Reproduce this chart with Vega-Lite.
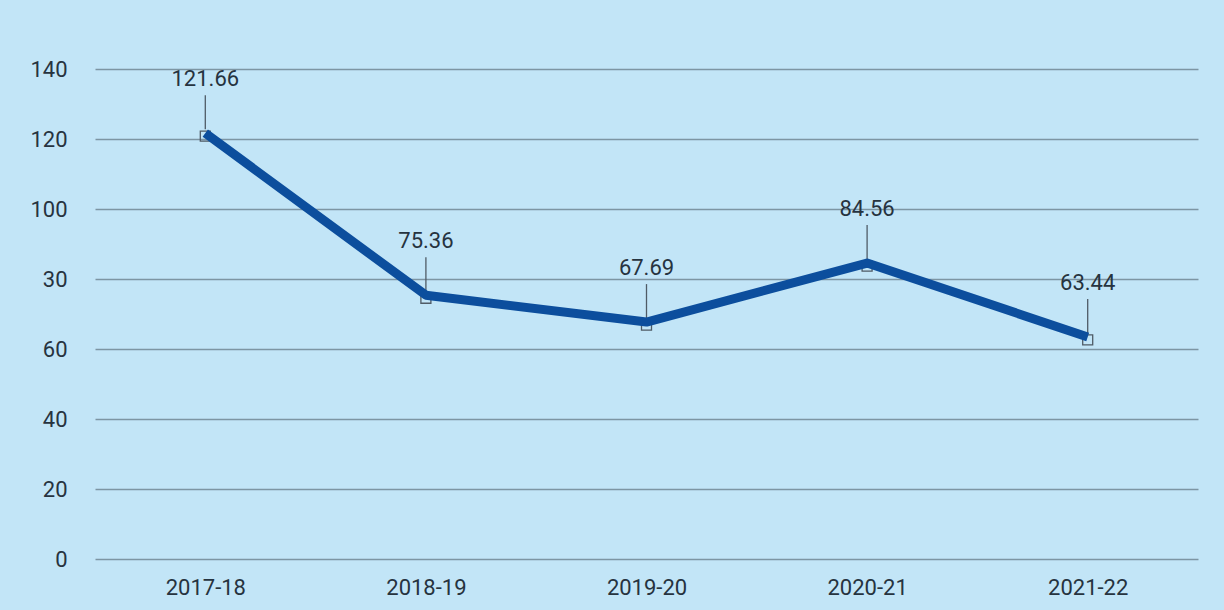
{
  "$schema": "https://vega.github.io/schema/vega-lite/v6.json",
  "width": 1103,
  "height": 490,
  "autosize": {"type": "none"},
  "padding": {"left": 95, "top": 69, "right": 26, "bottom": 51},
  "background": "#c2e5f7",
  "config": {
    "view": {"stroke": null},
    "font": "Roboto",
    "axis": {"labelFont": "Roboto", "labelFontSize": 22, "labelColor": "#26333f"}
  },
  "data": {
    "values": [
      {"year": "2017-18", "value": 121.66},
      {"year": "2018-19", "value": 75.36},
      {"year": "2019-20", "value": 67.69},
      {"year": "2020-21", "value": 84.56},
      {"year": "2021-22", "value": 63.44}
    ]
  },
  "encoding": {
    "x": {
      "field": "year", "type": "ordinal",
      "scale": {"type": "point", "padding": 0.5},
      "axis": {"title": null, "labelAngle": 0, "domain": false, "ticks": false, "labelPadding": 18, "grid": false}
    },
    "y": {
      "field": "value", "type": "quantitative",
      "scale": {"domain": [0, 140], "nice": false},
      "axis": {
        "title": null, "values": [0, 20, 40, 60, 80, 100, 120, 140],
        "labelExpr": "datum.value == 80 ? '30' : datum.label",
        "domain": false, "ticks": false, "labelPadding": 28,
        "grid": true, "gridColor": "#7d95a3", "gridWidth": 1.5
      }
    }
  },
  "layer": [
    {
      "mark": {"type": "rule", "color": "#4f5b66", "strokeWidth": 1.3, "yOffset": -4, "y2Offset": -38},
      "encoding": {"y2": {"field": "value"}}
    },
    {
      "mark": {"type": "point", "shape": "square", "filled": false, "size": 100, "stroke": "#4f5b66", "strokeWidth": 1.3, "yOffset": 3, "opacity": 1}
    },
    {
      "mark": {"type": "line", "color": "#0c4e9d", "strokeWidth": 9, "strokeJoin": "round"}
    },
    {
      "mark": {"type": "text", "fontSize": 22, "color": "#26333f", "baseline": "middle", "yOffset": -54},
      "encoding": {"text": {"field": "value", "type": "quantitative", "format": ".2f"}}
    }
  ]
}
